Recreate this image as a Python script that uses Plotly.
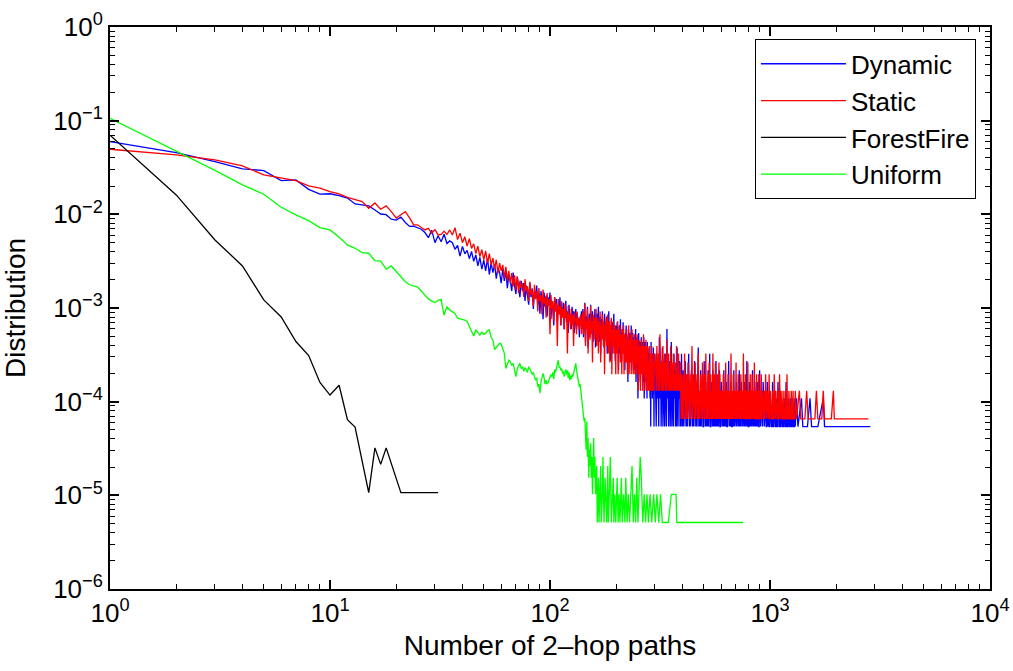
import plotly.graph_objects as go

# ---------------- data (counts; y = count * unit) ----------------
# Dynamic: counts for x = 1..300
dyn_unit = 5.42e-5
dyn_head = [
    1101, 841, 673, 565, 541, 423, 430, 341, 303, 306, 292, 275, 238, 232, 227, 205, 186, 183, 164, 160,
    172, 151, 137, 138, 133, 128, 118, 104, 125, 92, 109, 94, 113, 90, 96,
    92, 78, 86, 66, 84, 70, 76, 62, 74, 58,
    68, 52, 64, 48, 60, 46, 62, 42, 56, 44,
    54, 38, 50, 44, 34, 48, 36, 46, 30, 42,
    36, 28, 44, 32, 26, 40, 30, 24, 36, 28,
    34, 22, 32, 26, 20, 34, 24, 30, 18, 28,
    24, 32, 20, 26, 16, 28, 22, 14, 27, 19,
    25, 15, 24, 20, 27, 14, 22, 18, 12, 24,
    17, 23, 13, 20, 16, 24, 12, 19, 15, 21,
    11, 18, 22, 13, 17, 10, 20, 14, 16, 11,
    19, 13, 17, 10, 15, 18, 11, 16, 12, 14,
    9, 15, 13, 17, 11,
    18, 9, 14, 21, 8, 15, 11, 19, 7, 13, 16, 9, 20, 10, 12, 17, 8, 14, 11, 18,
    7, 13, 16, 9, 12, 19, 8, 11, 15, 6, 14, 10, 17, 9, 12, 7, 16, 10, 13, 8,
    15, 6, 11, 9, 17, 7, 12, 10, 5, 14, 9, 13, 6, 11, 16, 8, 10, 5, 12, 9,
    7, 13, 8, 10, 4, 12, 9, 6, 14, 7, 10, 5, 11, 8, 13, 6, 9, 7, 4, 10,
    8, 12, 5, 9, 7, 3, 11, 8, 6, 10, 5, 9, 7, 12, 4, 8, 6, 10, 5, 7,
    9, 4, 8, 6, 11, 3, 7, 9, 5, 8, 2, 7, 10, 4, 6, 8, 3, 7, 5, 9,
    4, 6, 8, 3, 7, 5, 9, 2, 6, 4, 8, 5, 3, 7, 6, 2, 8, 4, 6, 5,
    3, 7, 4, 6, 2, 5, 1, 8, 4, 3, 6, 2, 5, 4, 7, 3, 1, 5, 3, 6,
]

# Static: counts for x = 1..300
sta_unit = 6.55e-5
sta_head = [
    756, 658, 582, 502, 403, 371, 350, 307, 290, 267, 252, 232, 218, 209, 177, 202, 173, 188, 163, 139,
    151, 163, 140, 118, 118, 111, 104, 108, 96, 105, 92, 93, 101, 93,
    104, 92, 110, 82, 96, 76, 88, 70, 84, 66,
    74, 58, 70, 54, 64, 50, 62, 46, 58, 44,
    52, 40, 50, 36, 46, 38, 44, 32, 42, 30,
    38, 28, 36, 26, 34, 24, 33, 22, 30, 25,
    28, 20, 31, 23, 26, 18, 29, 21, 24, 16,
    27, 19, 23, 14, 25, 18, 21, 13, 24, 17,
    20, 12, 22, 16, 19, 8, 21, 15, 18, 11,
    20, 14, 17, 6, 19, 13, 16, 10, 18, 12,
    15, 9, 17, 12, 14, 5, 16, 11, 13, 9,
    15, 10, 13, 6, 14, 11, 12, 8, 14, 10,
    12, 9, 11, 13, 8, 12,
    14, 8, 12, 17, 6, 11, 9, 15, 5, 12, 10, 7, 16, 8, 11, 4, 13, 9, 12, 7,
    10, 15, 6, 9, 12, 5, 11, 8, 14, 4, 10, 7, 13, 9, 6, 11, 3, 10, 8, 12,
    6, 9, 13, 5, 8, 11, 4, 10, 7, 12, 3, 9, 6, 11, 8, 5, 10, 7, 3, 9,
    8, 5, 11, 3, 7, 9, 6, 10, 4, 8, 6, 3, 9, 7, 5, 10, 3, 8, 6, 4,
    7, 9, 4, 6, 3, 8, 5, 10, 3, 6, 7, 4, 8, 3, 5, 9, 4, 6, 3, 7,
    5, 8, 3, 6, 4, 7, 3, 5, 8, 4, 6, 2, 5, 7, 3, 6, 4, 2, 5, 7,
    3, 6, 4, 2, 5, 8, 3, 4, 6, 2, 5, 3, 7, 4, 2, 5, 6, 3, 4, 2,
    5, 3, 6, 2, 4, 3, 5, 2, 4, 6, 2, 3, 5, 2, 4, 3, 2, 5, 3, 4,
]

# shared bins of the noisy tail (x from 302 to 1303)
tail_x = [
    302, 304, 306, 308, 310, 312, 314, 316, 318, 320, 322, 324, 326, 328, 330, 332, 334, 336, 338, 340,
    342, 344, 346, 348, 350, 352, 354, 356, 358, 360, 362, 364, 366, 368, 370, 372, 374, 376, 378, 380,
    382, 384, 386, 388, 390, 392, 394, 396, 398, 400,
    403, 406, 409, 412, 415, 418, 421, 424, 427, 430, 433, 436, 439, 442, 445, 448, 451, 454, 457, 460,
    463, 466, 469, 472, 475, 478, 481, 484, 487, 490, 493, 496, 499, 502, 505, 508, 511, 514, 517, 520,
    523, 526, 529, 532, 535, 538, 541, 544, 547, 550, 553, 556, 559, 562, 565, 568, 571, 574, 577, 580,
    583, 586, 589, 592, 595, 598, 601,
    605, 609, 613, 617, 621, 625, 629, 633, 637, 641, 645, 649, 653, 657, 661, 665, 669, 673, 677, 681,
    685, 689, 693, 697, 701, 705, 709, 713, 717, 721, 725, 729, 733, 737, 741, 745, 749, 753, 757, 761,
    765, 769, 773, 777, 781, 785, 789, 793, 797, 801, 805, 809, 813, 817, 821, 825, 829, 833, 837, 841,
    845, 849, 853, 857, 861, 865, 869, 873, 877, 881, 885, 889, 893, 897, 901,
    907, 913, 919, 925, 931, 937, 943, 949, 955, 961, 967, 973, 979, 985, 991, 997, 1003, 1009, 1015, 1021,
    1027, 1033, 1039, 1045, 1051, 1057, 1063, 1069, 1075, 1081, 1087, 1093, 1099, 1105, 1111, 1117, 1123,
    1129, 1135, 1141, 1147, 1153, 1159, 1165, 1171, 1177, 1183, 1189, 1195, 1201, 1207, 1213, 1219, 1225,
    1231, 1237, 1243, 1249, 1255, 1261, 1267, 1273, 1279, 1285, 1291, 1297, 1303,
]
dyn_tail_n = [
    3, 1, 6, 2, 4, 1, 9, 2, 5, 1, 3, 7, 1, 4, 2, 1, 6, 3, 1, 11, 2, 4, 1, 3, 5, 1, 2, 8, 1, 3,
    2, 1, 6, 2, 4, 1, 3, 1, 7, 2, 1, 4, 2, 5, 1, 3, 1, 6, 2, 1,
    4, 1, 2, 5, 1, 3, 1, 2, 6, 1, 2, 1, 4, 2, 1, 3, 1, 5, 2, 1, 2, 1, 3, 7, 1, 2, 1, 4, 1, 2,
    3, 1, 1, 5, 2, 1, 3, 1, 2, 1, 4, 1, 2, 6, 1, 1, 3, 2, 1, 4, 1, 2, 1, 3, 1, 5, 1, 2, 1, 3,
    1, 2, 4, 1, 1, 2, 3,
    1, 2, 1, 4, 1, 2, 1, 3, 1, 1, 2, 5, 1, 2, 1, 3, 1, 1, 2, 1, 4, 1, 2, 1, 1, 3, 1, 2, 1, 1,
    4, 1, 2, 1, 3, 1, 1, 2, 1, 1, 3, 1, 2, 1, 1, 5, 1, 2, 1, 1, 3, 1, 2, 1, 1, 2, 1, 4, 1, 1,
    2, 1, 3, 1, 1, 2, 1, 1, 3, 1, 2, 1, 1, 4, 1,
    1, 2, 1, 1, 3, 1, 1, 2, 1, 1, 1, 3, 1, 2, 1, 1, 2, 1, 1, 1, 3, 1, 1, 2, 1, 1, 1, 2, 1, 1,
    3, 1, 1, 1, 2, 1, 1, 2, 1, 1, 1, 1, 2, 1, 1, 1, 3, 1, 1, 1, 2, 1, 1, 1, 1, 2, 1, 1, 1, 1,
    2, 1, 1, 1, 1, 2, 1,
]
sta_tail_n = [
    4, 2, 6, 3, 2, 5, 2, 8, 3, 2, 4, 2, 6, 2, 3, 5, 2, 4, 2, 7, 3, 2, 5, 2, 3, 2, 6, 2, 4, 3,
    2, 5, 2, 3, 2, 4, 2, 6, 2, 3, 2, 5, 2, 3, 2, 4, 1, 3, 2, 1,
    3, 1, 5, 2, 1, 3, 1, 4, 2, 1, 3, 1, 2, 6, 1, 3, 2, 1, 4, 1, 2, 3, 1, 5, 1, 2, 1, 3, 2, 1,
    4, 1, 2, 3, 1, 2, 5, 1, 2, 1, 3, 1, 4, 2, 1, 3, 1, 2, 1, 5, 1, 3, 2, 1, 4, 1, 2, 1, 3, 1,
    2, 4, 1, 3, 1, 2, 1,
    2, 1, 3, 1, 2, 1, 4, 1, 2, 1, 3, 1, 1, 2, 1, 5, 1, 2, 1, 3, 1, 2, 1, 1, 4, 1, 2, 1, 3, 1,
    1, 2, 1, 3, 1, 2, 1, 1, 5, 1, 2, 1, 3, 1, 1, 2, 1, 4, 1, 2, 1, 1, 3, 1, 2, 1, 3, 1, 1, 2,
    1, 4, 1, 2, 1, 1, 3, 1, 2, 1, 1, 3, 1, 2, 1,
    1, 3, 1, 2, 1, 1, 2, 1, 3, 1, 1, 2, 1, 1, 3, 1, 2, 1, 1, 1, 2, 1, 1, 3, 1, 1, 2, 1, 1, 1,
    2, 1, 1, 3, 1, 1, 2, 1, 1, 1, 2, 1, 1, 1, 2, 1, 1, 1, 3, 1, 1, 1, 2, 1, 1, 1, 1, 2, 1, 1,
    1, 2, 1, 1, 1, 1, 2,
]
# last sparse points
dyn_end_x = [1320, 1340, 1390, 1410, 1480, 1520, 1545, 1650, 1746, 1770, 2000, 2400, 2858]
dyn_end_n = [2, 1, 2, 1, 1, 2, 1, 1, 2, 1, 1, 1, 1]
sta_end_x = [1320, 1360, 1380, 1440, 1468, 1490, 1600, 1625, 1650, 1720, 1746, 1770, 1900, 1941, 1960, 2200, 2799]
sta_end_n = [1, 2, 1, 1, 2, 1, 1, 2, 1, 1, 2, 1, 1, 2, 1, 1, 1]

# ForestFire
ff_unit = 1.07e-5
ff_x = [1, 2, 3, 4, 5, 6, 7, 8, 9, 10, 11, 12, 13, 15, 16, 17, 18, 21, 31]
ff_n = [6542, 1505, 498, 263, 114, 75, 41, 29, 15, 11, 14, 6, 5, 1, 3, 2, 3, 1, 1]

# Uniform: counts for x = 1..144, then sparse tail
uni_unit = 5.13e-6
uni_head = [
    20670, 9263, 5753, 4017, 3198, 2321, 1921, 1671, 1406, 1330, 1110, 918, 846, 761, 749, 626, 616, 507,
    548, 478, 421, 372, 345, 335, 326, 296, 269, 244, 232, 222, 236, 240, 164, 201,
    186, 180, 171, 152, 150, 146, 145, 140, 124, 110, 98, 114, 105, 100, 108, 102, 105, 112, 114, 95,
    89, 70, 74, 79, 82, 80, 70, 64, 44, 50, 54, 52, 48, 50, 42, 36, 44, 48, 50, 44, 46, 41, 45, 43,
    40, 46, 44, 41, 38, 40, 36, 33, 35, 28, 30, 24, 32, 36, 39, 35, 30, 33, 30, 31, 34, 35, 38, 36,
    40, 34, 43, 40, 46, 48, 54, 45, 46, 42, 44, 39, 41, 36, 40, 43, 38, 42, 35, 40, 33, 37, 34, 38,
    36, 40, 44, 46, 50, 42, 38, 36, 32, 28, 30, 26, 24, 20, 18, 15, 12, 13,
]
uni_tail_x = [
    145, 146, 147, 148, 149, 150, 151, 152, 153, 154, 155, 156, 157, 158, 159, 160, 161, 163, 164, 166,
    167, 168, 170, 171, 173, 174, 176, 178, 179, 181, 183, 184, 186, 188, 190, 192, 194, 195, 197, 199,
    202, 204, 206, 208, 211, 213, 216, 219, 221, 224, 227, 230, 233, 236, 239, 242, 245, 248, 251, 254,
    257, 260, 264, 268, 272, 276, 280, 285, 290, 296, 301, 306, 312, 318, 324, 335, 345, 356, 374, 377,
    754,
]
uni_tail_n = [
    10, 6, 12, 5, 8, 3, 6, 4, 7, 3, 5, 2, 4, 8, 3, 5, 2, 4, 1, 3,
    1, 2, 4, 1, 2, 5, 1, 3, 2, 1, 4, 1, 2, 5, 1, 2, 3, 1, 2, 1,
    3, 1, 2, 1, 3, 1, 2, 1, 3, 1, 2, 1, 2, 4, 1, 2, 1, 3, 1, 2,
    5, 3, 1, 2, 1, 2, 1, 2, 1, 2, 1, 2, 1, 2, 1, 1, 1, 2, 2, 1,
    1,
]

series_names = ["Dynamic", "Static", "ForestFire", "Uniform"]
series_colors = ["#0000ff", "#ff0000", "#000000", "#00ff00"]

x_tick_vals = [1, 10, 100, 1000, 10000]
x_tick_text = ["10<sup>0</sup>", "10<sup>1</sup>", "10<sup>2</sup>", "10<sup>3</sup>", "10<sup>4</sup>"]
y_tick_vals = [1e-6, 1e-5, 1e-4, 1e-3, 1e-2, 1e-1, 1]
y_tick_text = ["10<sup>−6</sup>", "10<sup>−5</sup>", "10<sup>−4</sup>", "10<sup>−3</sup>",
               "10<sup>−2</sup>", "10<sup>−1</sup>", "10<sup>0</sup>"]
x_minor_vals = [m * 10 ** k for k in range(0, 4) for m in range(2, 10)]
y_minor_vals = [m * 10.0 ** k for k in range(-6, 0) for m in range(2, 10)]

# ---------------- build ----------------
def series(head, parts, unit):
    xs = list(range(1, len(head) + 1))
    ns = list(head)
    for px_, pn_ in parts:
        xs += list(px_)
        ns += list(pn_)
    return xs, [c * unit for c in ns]

data = [
    series(dyn_head, [(tail_x, dyn_tail_n), (dyn_end_x, dyn_end_n)], dyn_unit),
    series(sta_head, [(tail_x, sta_tail_n), (sta_end_x, sta_end_n)], sta_unit),
    (ff_x, [c * ff_unit for c in ff_n]),
    series(uni_head, [(uni_tail_x, uni_tail_n)], uni_unit),
]

fig = go.Figure()
for (xs, ys), name, col in zip(data, series_names, series_colors):
    fig.add_trace(go.Scatter(x=xs, y=ys, mode="lines", name=name,
                             line=dict(color=col, width=1.3)))
# empty trace that only carries the minor-tick axes
fig.add_trace(go.Scatter(x=[], y=[], xaxis="x2", yaxis="y2", showlegend=False,
                         hoverinfo="skip"))

FONT = "Arial, 'Liberation Sans', Helvetica, sans-serif"

fig.update_layout(
    width=1013, height=671,
    margin=dict(l=110, r=23, t=27, b=82),
    paper_bgcolor="white", plot_bgcolor="white",
    font=dict(family=FONT, size=26, color="black"),
    showlegend=True,
    legend=dict(x=0.984, y=0.978, xanchor="right", yanchor="top",
                bgcolor="white", bordercolor="black", borderwidth=1,
                font=dict(size=26, family=FONT), itemwidth=85, tracegroupgap=0),
)
fig.update_layout(
    xaxis=dict(type="log", range=[0, 4], tickmode="array", tickvals=x_tick_vals, ticktext=x_tick_text,
               ticks="inside", ticklen=9, tickwidth=1.5, tickcolor="black",
               showline=True, linecolor="black", linewidth=2, mirror="ticks", showgrid=False,
               automargin=False,
               title=dict(text="Number of 2–hop paths", font=dict(size=28, family=FONT), standoff=8)),
    yaxis=dict(type="log", range=[-6, 0], tickmode="array", tickvals=y_tick_vals, ticktext=y_tick_text,
               ticks="inside", ticklen=9, tickwidth=1.5, tickcolor="black",
               showline=True, linecolor="black", linewidth=2, mirror="ticks", showgrid=False,
               automargin=False,
               title=dict(text="Distribution", font=dict(size=28, family=FONT), standoff=20)),
    xaxis2=dict(type="log", range=[0, 4], overlaying="x", anchor="y2", tickmode="array",
                tickvals=x_minor_vals, ticks="inside", ticklen=5, tickwidth=1.2, tickcolor="black",
                mirror="ticks", showticklabels=False, showgrid=False),
    yaxis2=dict(type="log", range=[-6, 0], overlaying="y", anchor="x2", tickmode="array",
                tickvals=y_minor_vals, ticks="inside", ticklen=5, tickwidth=1.2, tickcolor="black",
                mirror="ticks", showticklabels=False, showgrid=False),
)

fig.write_html("out.html", config={"displayModeBar": False},
               post_script="document.body.style.margin='0';")
